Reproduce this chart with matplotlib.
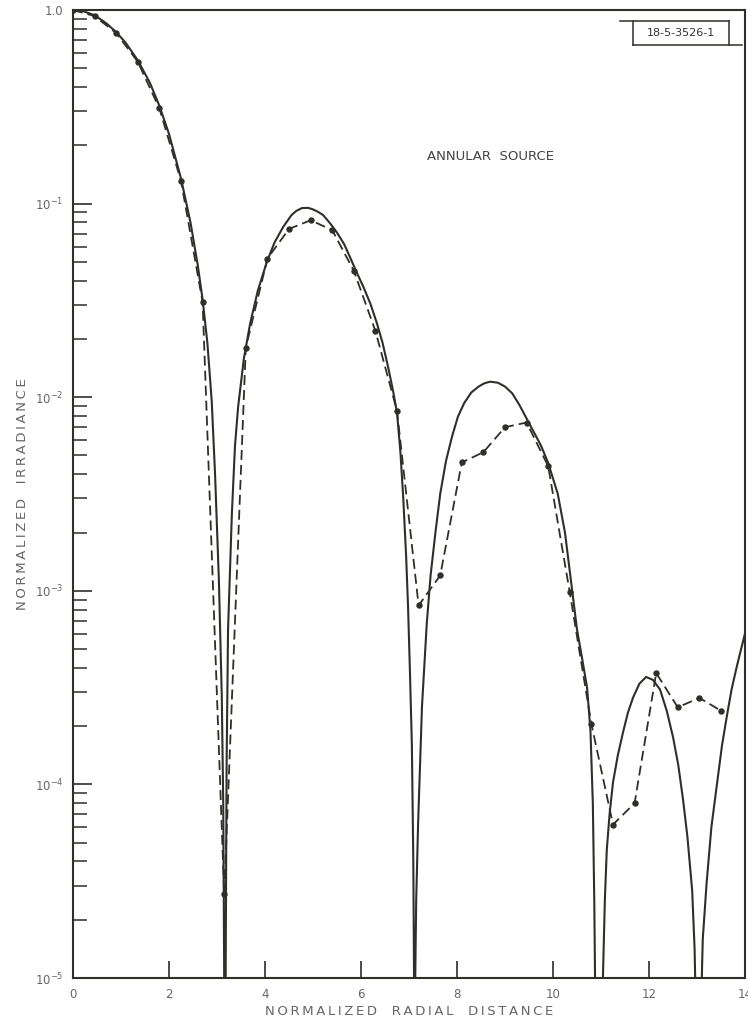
import matplotlib
matplotlib.use("Agg")
import matplotlib.pyplot as plt
from matplotlib.lines import Line2D
from matplotlib.ticker import FixedLocator, FixedFormatter, LogLocator, NullFormatter
import numpy as np

# theoretical irradiance (solid curve), log10 values
theory_x = [0.0, 0.2, 0.45, 0.7, 0.9, 1.1, 1.35, 1.6, 1.8, 2.0, 2.25, 2.45, 2.6, 2.7,
            2.8, 2.89, 2.96, 3.04, 3.10, 3.13, 3.15, 3.165,
            3.18, 3.20, 3.23, 3.31, 3.375, 3.44, 3.56, 3.69, 3.85, 4.04, 4.2, 4.38, 4.55,
            4.65, 4.77, 4.9, 5.0, 5.1, 5.21, 5.35, 5.5, 5.65, 5.77, 5.9, 6.05, 6.2,
            6.33, 6.45, 6.57, 6.67, 6.75, 6.82, 6.88, 6.94, 6.98, 7.02, 7.06, 7.09,
            7.105, 7.115,
            7.13, 7.15, 7.19, 7.27, 7.37, 7.45, 7.55, 7.65, 7.77, 7.9, 8.02, 8.15, 8.3,
            8.45, 8.57, 8.69, 8.85, 9.0, 9.15, 9.3, 9.45, 9.6, 9.75, 9.9, 10.1, 10.25,
            10.4, 10.5, 10.6, 10.71, 10.78, 10.83, 10.86, 10.88, 10.955,
            11.04, 11.08, 11.12, 11.18, 11.25, 11.35, 11.46, 11.56, 11.67, 11.8, 11.94,
            12.08, 12.23, 12.37, 12.5, 12.61, 12.71, 12.8, 12.9, 12.95, 12.98, 13.03,
            13.08, 13.12, 13.2, 13.3, 13.42, 13.52, 13.62, 13.72, 13.83, 13.92, 14.0]
theory_log = [0.0, -0.005, -0.027, -0.07, -0.114, -0.17, -0.26, -0.375, -0.495, -0.64,
              -0.87, -1.10, -1.32, -1.495,
              -1.72, -2.02, -2.4, -2.95, -3.55, -4.1, -5.0, -7.0,
              -5.0, -3.9, -3.2, -2.6, -2.25, -2.05, -1.8, -1.62, -1.45, -1.30, -1.20,
              -1.12, -1.06, -1.038, -1.023, -1.022, -1.03, -1.042, -1.059, -1.10, -1.15,
              -1.21, -1.276, -1.35, -1.43, -1.52, -1.617, -1.72, -1.85, -1.97, -2.08,
              -2.28, -2.52, -2.82, -3.08, -3.42, -3.8, -4.4, -5.0, -7.0,
              -5.0, -4.6, -4.2, -3.6, -3.17, -2.92, -2.7, -2.5, -2.33, -2.2, -2.1,
              -2.03, -1.975, -1.945, -1.928, -1.92, -1.925, -1.945, -1.98, -2.04, -2.11,
              -2.18, -2.25, -2.34, -2.5, -2.7, -3.0, -3.2, -3.34, -3.5, -3.72, -4.1,
              -4.6, -5.1, -7.0,
              -5.0, -4.6, -4.34, -4.15, -3.99, -3.85, -3.73, -3.63, -3.55, -3.48,
              -3.445, -3.46, -3.51, -3.62, -3.755, -3.9, -4.08, -4.27, -4.55, -4.85,
              -5.2, -7.0,
              -5.2, -4.8, -4.51, -4.22, -3.99, -3.8, -3.65, -3.51, -3.39, -3.3, -3.22]

# measured irradiance (dashed curve with points)
meas_x = [0.0, 0.45, 0.9, 1.35, 1.8, 2.25, 2.7, 3.15, 3.6, 4.05, 4.5, 4.95, 5.4, 5.85,
          6.3, 6.75, 7.2, 7.65, 8.1, 8.55, 9.0, 9.45, 9.9, 10.35, 10.8, 11.25, 11.7,
          12.15, 12.6, 13.05, 13.5]
meas_y = [1.0, 0.93, 0.76, 0.54, 0.31, 0.131, 0.031, 2.7e-5, 0.018, 0.052, 0.074,
          0.082, 0.073, 0.045, 0.022, 0.0085, 8.4e-4, 1.2e-3, 4.6e-3, 5.2e-3, 7.0e-3,
          7.4e-3, 4.4e-3, 9.8e-4, 2.05e-4, 6.2e-5, 8.0e-5, 3.76e-4, 2.5e-4, 2.8e-4,
          2.4e-4]

ytick_vals = [1e-5, 1e-4, 1e-3, 1e-2, 1e-1, 1.0]
ytick_labels = [r'$10^{-5}$', r'$10^{-4}$', r'$10^{-3}$', r'$10^{-2}$', r'$10^{-1}$', '1.0']
xtick_vals = [0, 2, 4, 6, 8, 10, 12, 14]

ink = '#2e2e2a'
label_grey = '#666666'

plt.rcParams['font.family'] = 'DejaVu Sans'
plt.rcParams['mathtext.fontset'] = 'dejavusans'


def spaced(s):
    # lettering on the drawing is widely tracked: thin space between letters
    return '\u2009'.join(s).replace('\u2009 \u2009', '\u2009\u2009 \u2009\u2009')


fig = plt.figure(figsize=(7.48, 10.22), dpi=100)
ax = fig.add_axes([73 / 748, 44 / 1022, 672 / 748, 968 / 1022])

ax.plot(theory_x, 10 ** np.array(theory_log), color=ink, lw=1.5,
        solid_joinstyle='round')
ax.plot(meas_x, meas_y, color=ink, lw=1.3, dashes=(5.5, 2.8),
        marker='o', ms=3.6, mfc=ink, mec=ink)

ax.set_yscale('log')
ax.set_xlim(0, 14)
ax.set_ylim(1e-5, 1.0)

ax.yaxis.set_major_locator(FixedLocator(ytick_vals))
ax.yaxis.set_major_formatter(FixedFormatter(ytick_labels))
ax.yaxis.set_minor_locator(LogLocator(base=10, subs=np.arange(2, 10)))
ax.yaxis.set_minor_formatter(NullFormatter())
ax.set_xticks(xtick_vals)
ax.set_xticklabels([str(v) for v in xtick_vals])

ax.tick_params(axis='y', which='major', direction='in', length=14, width=1.2,
               color=ink, labelsize=8.5, labelcolor=label_grey, pad=7)
ax.tick_params(axis='y', which='minor', direction='in', length=10, width=1.1, color=ink)
ax.tick_params(axis='x', which='major', direction='in', length=12, width=1.2,
               color=ink, labelsize=8.5, labelcolor=label_grey, pad=7)
for s in ax.spines.values():
    s.set_color(ink)
    s.set_linewidth(1.5)

ax.set_xlabel(spaced('NORMALIZED RADIAL DISTANCE'), fontsize=9.5, color=label_grey,
              labelpad=3)
ax.set_ylabel(spaced('NORMALIZED IRRADIANCE'), fontsize=9.5, color=label_grey,
              labelpad=4)

fig.text(491 / 748, 1 - 157 / 1022, 'ANNULAR  SOURCE', fontsize=9.5,
         color='#444444', ha='center', va='center')

# drawing number stamp in the upper right corner
fw, fh = 748, 1022
def fig_line(x0, y0, x1, y1):
    fig.add_artist(Line2D([x0 / fw, x1 / fw], [1 - y0 / fh, 1 - y1 / fh],
                          color=ink, lw=1.1, transform=fig.transFigure))
fig_line(620, 21, 729, 21)
fig_line(633, 45, 742, 45)
fig_line(633, 21, 633, 45)
fig_line(729, 21, 729, 45)
fig.text(681 / fw, 1 - 33 / fh, '18-5-3526-1', fontsize=8, color='#333333',
         ha='center', va='center')

fig.savefig('out.png', dpi=100)
